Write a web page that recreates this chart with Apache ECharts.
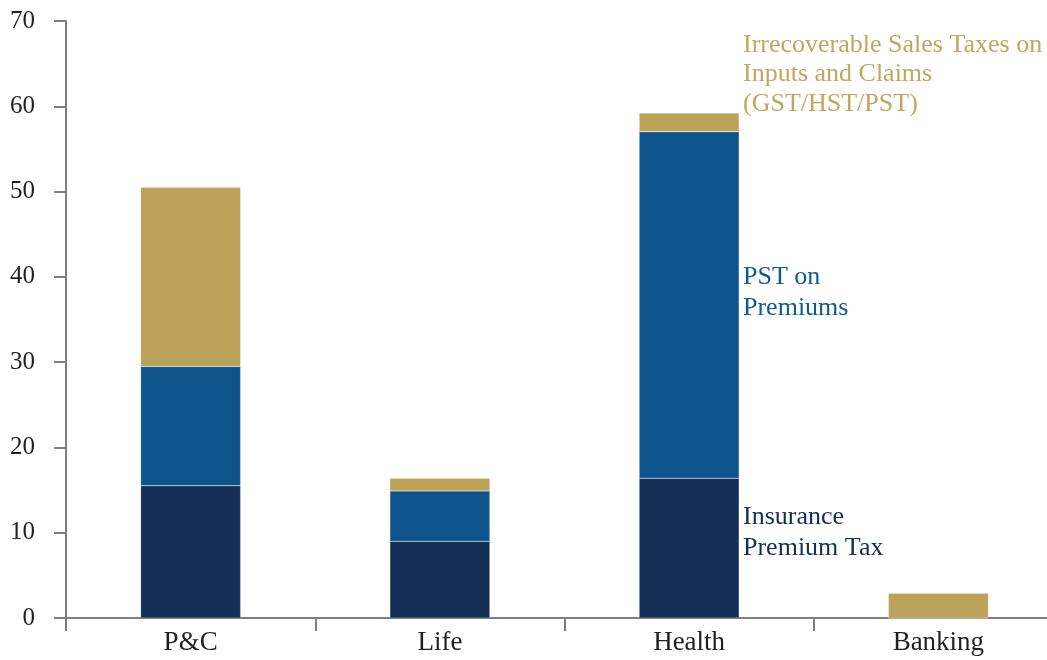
<!DOCTYPE html>
<html>
<head>
<meta charset="utf-8">
<script src="https://cdn.jsdelivr.net/npm/echarts@6/dist/echarts.min.js"></script>
<style>
html,body{margin:0;padding:0;background:#fff;}
#chart{width:1047px;height:660px;}
</style>
</head>
<body>
<div id="chart"></div>
<script>
const categories = ['P&C', 'Life', 'Health', 'Banking'];
const insurancePremiumTax = [15.5, 9.0, 16.4, 0];
const pstOnPremiums = [14.0, 5.9, 40.6, 0];
const irrecoverableSalesTaxes = [21.0, 1.5, 2.2, 2.9];
const yTicks = [0, 10, 20, 30, 40, 50, 60, 70];

const FONT = '"Liberation Serif", "DejaVu Serif", serif';
const GOLD = '#BDA25A';
const BLUE = '#0E548C';
const NAVY = '#142F55';

const chart = echarts.init(document.getElementById('chart'));
chart.setOption({
  animation: false,
  backgroundColor: '#fff',
  grid: { left: 66, right: -16, top: 21, bottom: 42, containLabel: false, outerBoundsMode: 'none' },
  xAxis: {
    type: 'category',
    data: categories,
    axisLine: { lineStyle: { color: '#7f7f7f', width: 2 } },
    axisTick: { show: true, length: 13, lineStyle: { color: '#7f7f7f', width: 2 } },
    axisLabel: { color: '#231F20', fontFamily: FONT, fontSize: 27, margin: 11 }
  },
  yAxis: {
    type: 'value',
    min: yTicks[0],
    max: yTicks[yTicks.length - 1],
    interval: 10,
    axisLine: { show: true, lineStyle: { color: '#7f7f7f', width: 2 } },
    axisTick: { show: true, length: 12, lineStyle: { color: '#7f7f7f', width: 2 } },
    splitLine: { show: false },
    axisLabel: { color: '#231F20', fontFamily: FONT, fontSize: 25, margin: 31 }
  },
  series: [
    { name: 'Insurance Premium Tax', type: 'bar', stack: 'a', data: insurancePremiumTax, barWidth: 100,
      itemStyle: { color: NAVY, borderColor: 'rgba(255,255,255,0.35)', borderWidth: 0.5 } },
    { name: 'PST on Premiums', type: 'bar', stack: 'a', data: pstOnPremiums, barWidth: 100,
      itemStyle: { color: BLUE, borderColor: 'rgba(255,255,255,0.35)', borderWidth: 0.5 } },
    { name: 'Irrecoverable Sales Taxes', type: 'bar', stack: 'a', data: irrecoverableSalesTaxes, barWidth: 100,
      itemStyle: { color: GOLD, borderColor: 'rgba(255,255,255,0.35)', borderWidth: 0.5 } }
  ],
  graphic: [
    { type: 'text', left: 743, top: 30, style: { text: 'Irrecoverable Sales Taxes on\nInputs and Claims\n(GST/HST/PST)', fill: '#C2A660', font: '26px ' + FONT, lineHeight: 29.5 } },
    { type: 'text', left: 743, top: 262, style: { text: 'PST on\nPremiums', fill: '#0E5A91', font: '26px ' + FONT, lineHeight: 31 } },
    { type: 'text', left: 743, top: 502, style: { text: 'Insurance\nPremium Tax', fill: NAVY, font: '26px ' + FONT, lineHeight: 31 } }
  ]
});
</script>
</body>
</html>
